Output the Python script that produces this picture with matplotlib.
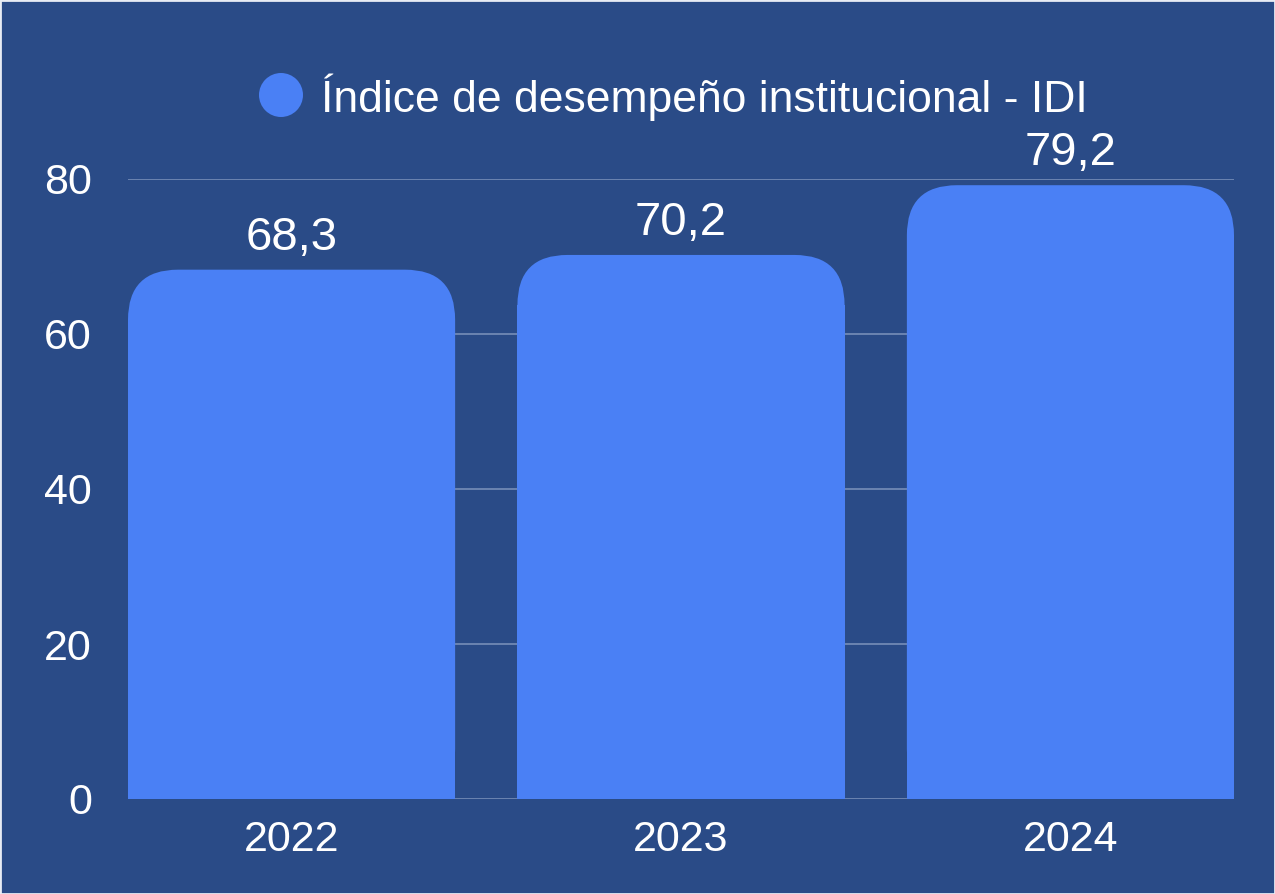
import matplotlib
matplotlib.use("Agg")
import matplotlib.pyplot as plt
from matplotlib.patches import FancyBboxPatch, Rectangle, Ellipse

categories = ["2022", "2023", "2024"]
values = [68.3, 70.2, 79.2]
value_labels = ["68,3", "70,2", "79,2"]
yticks = [0, 20, 40, 60, 80]
legend_label = "Índice de desempeño institucional - IDI"

BG = "#2A4B87"
BAR = "#4A80F5"
GRID = "#7088B4"

plt.rcParams['font.family'] = ['Liberation Sans', 'DejaVu Sans']

W, H = 1275, 894
fig = plt.figure(figsize=(W / 100, H / 100), dpi=100, facecolor=BG)
ax_l, ax_r, ax_b, ax_t = 128, 1234, 799, 179
ax = fig.add_axes([ax_l / W, (H - ax_b) / H, (ax_r - ax_l) / W, (ax_b - ax_t) / H])
ax.set_facecolor(BG)
ax.set_xlim(-0.42, 2.42)
ax.set_ylim(0, 80)
for s in ax.spines.values():
    s.set_visible(False)

FS = 31
ax.set_yticks(yticks)
ax.set_yticklabels([str(t) for t in yticks])
ax.yaxis.grid(True, color=GRID, linewidth=1.3)
ax.set_axisbelow(True)
ax.tick_params(axis='both', length=0, labelsize=FS, labelcolor='white')
ax.tick_params(axis='y', pad=26)
ax.tick_params(axis='x', pad=15)
ax.set_xticks(range(len(categories)))
ax.set_xticklabels(categories)

# pixel -> data conversions
px_x = 2.84 / (ax_r - ax_l)
px_y = 80 / (ax_b - ax_t)
r_px = 50
rx = r_px * px_x
ry = r_px * px_y
bw = 0.84
for i, v in enumerate(values):
    x0 = i - bw / 2
    p = FancyBboxPatch((x0, 0), bw, v,
                       boxstyle=f"round,pad=0,rounding_size={rx}",
                       mutation_aspect=ry / rx,
                       facecolor=BAR, edgecolor='none', zorder=3)
    ax.add_patch(p)
    ax.add_patch(Rectangle((x0, 0), bw, v - ry, facecolor=BAR, edgecolor='none', zorder=3))
    ax.text(i, v + 20 * px_y, value_labels[i], ha='center', va='baseline', color='white',
            fontsize=34, zorder=4, clip_on=False)

# legend
fig.patches.append(Ellipse((281 / W, (H - 95) / H), 44 / W, 44 / H, transform=fig.transFigure,
                           facecolor=BAR, edgecolor='none'))
fig.text(321 / W, (H - 97) / H, legend_label, ha='left', va='center', color='white', fontsize=32)

# thin light frame
fig.patches.append(Rectangle((0, 0), 1, 1, transform=fig.transFigure, fill=False,
                             edgecolor='#E8ECF4', linewidth=2.0))

fig.savefig("out.png", dpi=100, facecolor=BG)
